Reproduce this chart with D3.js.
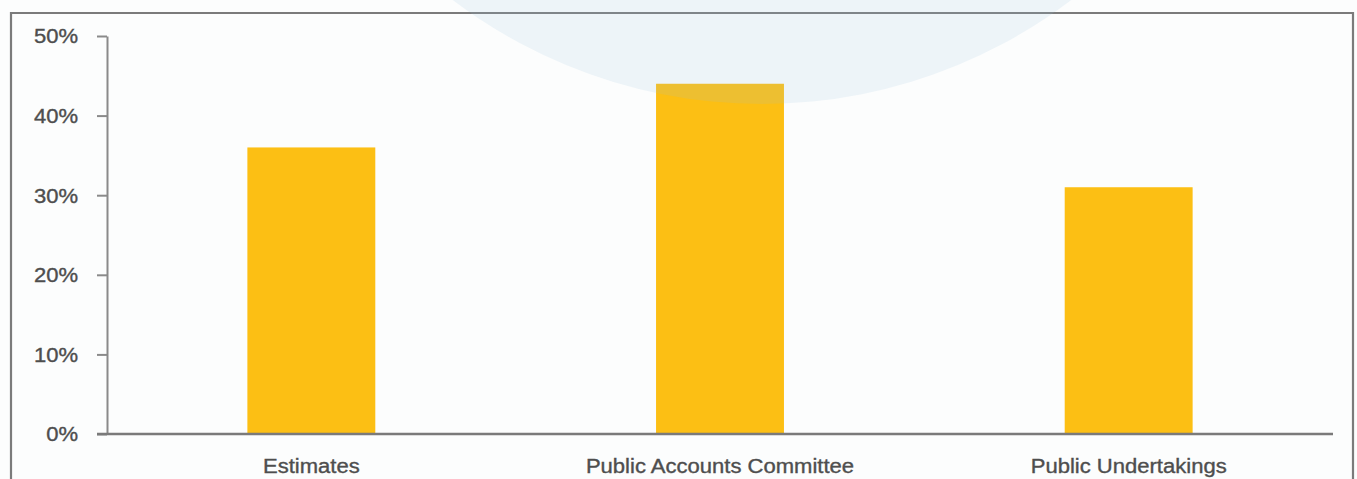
<!DOCTYPE html>
<html><head><meta charset="utf-8">
<script src="https://cdn.jsdelivr.net/npm/d3@7"></script>
<style>html,body{margin:0;padding:0;background:#fcfdfd;overflow:hidden}</style>
</head><body>
<svg id="c" width="1357" height="479"></svg>
<script>
const categories = ["Estimates", "Public Accounts Committee", "Public Undertakings"];
const values = [0.36, 0.44, 0.31];
const yTicks = [0, 0.1, 0.2, 0.3, 0.4, 0.5];

(function(){
const svg = d3.select("#c");
const W = 1357, H = 479;
const mLeft = 107, mRight = 1333, mTop = 36, mBottom = 434;

svg.append("rect").attr("x",0).attr("y",0).attr("width",W).attr("height",H).attr("fill","#fcfdfd");
// frame
svg.append("path").attr("d",`M11,${H+5} L11,13 L1353,13 L1353,${H+5}`)
  .attr("fill","none").attr("stroke","#7b7b7b").attr("stroke-width",2.2);

const x = d3.scaleBand().domain(categories).range([mLeft,mRight]).paddingInner(0.687).paddingOuter(0.3435);
const y = d3.scaleLinear().domain([0,0.5]).range([mBottom,mTop]);

svg.append("g").selectAll("rect").data(values).join("rect")
  .attr("x",(d,i)=>x(categories[i])).attr("width",x.bandwidth())
  .attr("y",d=>y(d)).attr("height",d=>y(0)-y(d)).attr("fill","#fcbf14");

const font = "'Liberation Sans', Arial, sans-serif";
const ya = svg.append("g").attr("transform",`translate(${mLeft},0)`)
  .call(d3.axisLeft(y).tickValues(yTicks).tickFormat(d3.format(".0%")).tickSize(10).tickSizeOuter(0).tickPadding(19));
ya.select(".domain").attr("stroke","#8a8a8a").attr("stroke-width",2);
ya.selectAll(".tick line").attr("stroke","#8a8a8a").attr("stroke-width",2);
ya.selectAll(".tick text").attr("fill","#4e4e4e").attr("stroke","#4e4e4e").attr("stroke-width",0.35)
  .style("font-family",font).style("font-size","19.5px").attr("dy","0.35em");

const xa = svg.append("g").attr("transform",`translate(0,${mBottom})`)
  .call(d3.axisBottom(x).tickSize(0).tickSizeOuter(0).tickPadding(32));
xa.select(".domain").attr("d",`M${mLeft-10},0H${mRight}`).attr("stroke","#7a7a7a").attr("stroke-width",2.4);
xa.selectAll(".tick text").attr("fill","#4e4e4e").attr("stroke","#4e4e4e").attr("stroke-width",0.35)
  .style("font-family",font).style("font-size","19.5px").attr("dy","0.35em");

// horizontal stretch of texts
svg.selectAll("text").each(function(){
  const len = this.getComputedTextLength();
  d3.select(this).attr("textLength", len*1.13).attr("lengthAdjust","spacingAndGlyphs");
});

// watermark circle
svg.append("circle").attr("cx",762).attr("cy",-408).attr("r",512)
  .attr("fill","rgb(155,190,218)").attr("fill-opacity",0.145);
})();
</script>
</body></html>
